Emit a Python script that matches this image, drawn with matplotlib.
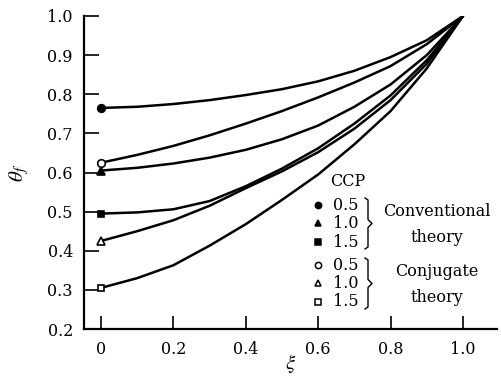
import matplotlib
matplotlib.use("Agg")
import matplotlib.pyplot as plt
from matplotlib.lines import Line2D

plt.rcParams['font.family'] = ['DejaVu Serif']
plt.rcParams['mathtext.fontset'] = 'stix'

# values, xi = 0, 0.1, ... 1.0
xi = [0.0, 0.1, 0.2, 0.3, 0.4, 0.5, 0.6, 0.7, 0.8, 0.9, 1.0]
conv_05 = [0.765, 0.768, 0.775, 0.785, 0.798, 0.813, 0.833, 0.860, 0.895, 0.938, 1.0]
conv_10 = [0.605, 0.612, 0.623, 0.638, 0.658, 0.685, 0.720, 0.768, 0.825, 0.900, 1.0]
conv_15 = [0.495, 0.498, 0.506, 0.527, 0.565, 0.610, 0.662, 0.725, 0.797, 0.887, 1.0]
conj_05 = [0.625, 0.645, 0.668, 0.695, 0.725, 0.757, 0.792, 0.830, 0.872, 0.928, 1.0]
conj_10 = [0.425, 0.450, 0.478, 0.515, 0.560, 0.603, 0.652, 0.712, 0.785, 0.878, 1.0]
conj_15 = [0.305, 0.330, 0.363, 0.413, 0.468, 0.530, 0.595, 0.672, 0.757, 0.866, 1.0]

series = [
    (conv_05, 'o', 'k'),
    (conv_10, '^', 'k'),
    (conv_15, 's', 'k'),
    (conj_05, 'o', 'w'),
    (conj_10, '^', 'w'),
    (conj_15, 's', 'w'),
]
ccp_labels = ['0.5', '1.0', '1.5']

W, H = 501, 387
fig = plt.figure(figsize=(W / 100, H / 100), dpi=100)
ax = fig.add_axes([84 / W, 1 - 329 / H, (497 - 84) / W, (329 - 16) / H])

for vals, mk, fc in series:
    ax.plot(xi, vals, color='k', lw=1.8, solid_capstyle='round')
    ax.plot(xi[0], vals[0], marker=mk, ms=5 if mk == 's' else 5.5, mfc=fc,
            mec='k', mew=1.2, linestyle='none', zorder=5)

ax.set_xlim(-0.047, 1.094)
ax.set_ylim(0.2, 1.0)
ax.set_xticks([0, 0.2, 0.4, 0.6, 0.8, 1.0])
ax.set_xticklabels(['0', '0.2', '0.4', '0.6', '0.8', '1.0'])
ax.set_yticks([0.2, 0.3, 0.4, 0.5, 0.6, 0.7, 0.8, 0.9, 1.0])
ax.set_yticklabels(['0.2', '0.3', '0.4', '0.5', '0.6', '0.7', '0.8', '0.9', '1.0'])
ax.tick_params(axis='y', direction='in', length=11, width=1.2, labelsize=11.5, pad=8)
ax.tick_params(axis='x', direction='in', length=9.5, width=1.2, labelsize=11.5, pad=9)
for s in ['top', 'right']:
    ax.spines[s].set_visible(False)
for s in ['left', 'bottom']:
    ax.spines[s].set_linewidth(1.6)

ax.set_ylabel(r'$\theta_f$', fontsize=15, labelpad=12)
ax.set_xlabel(r'$\xi$', fontsize=15, labelpad=-5)


def fx(px):
    return px / W


def fy(py):
    return 1 - py / H


# legend drawn by hand
fig.text(fx(348), fy(182), 'CCP', fontsize=11.5, ha='center', va='center')
rows = [205, 223, 242, 265, 283, 302]
for (vals, mk, fc), py, lab in zip(series, rows, ccp_labels * 2):
    fig.add_artist(Line2D([fx(318)], [fy(py)], marker=mk, ms=4.5, mfc=fc,
                          mec='k', mew=1.1, linestyle='none'))
    fig.text(fx(346), fy(py), lab, fontsize=11.5, ha='center', va='center')


def brace(top, bottom):
    mid = (top + bottom) / 2
    xs = [365, 368, 368, 372, 368, 368, 365]
    ys = [top, top + 2, mid - 4, mid, mid + 4, bottom - 2, bottom]
    fig.add_artist(Line2D([fx(v) for v in xs], [fy(v) for v in ys],
                          color='k', lw=1.0))


brace(198, 249)
brace(258, 309)
fig.text(fx(437), fy(212), 'Conventional', fontsize=11.5, ha='center', va='center')
fig.text(fx(437), fy(238), 'theory', fontsize=11.5, ha='center', va='center')
fig.text(fx(437), fy(272), 'Conjugate', fontsize=11.5, ha='center', va='center')
fig.text(fx(437), fy(297), 'theory', fontsize=11.5, ha='center', va='center')

fig.savefig('out.png', dpi=100)
